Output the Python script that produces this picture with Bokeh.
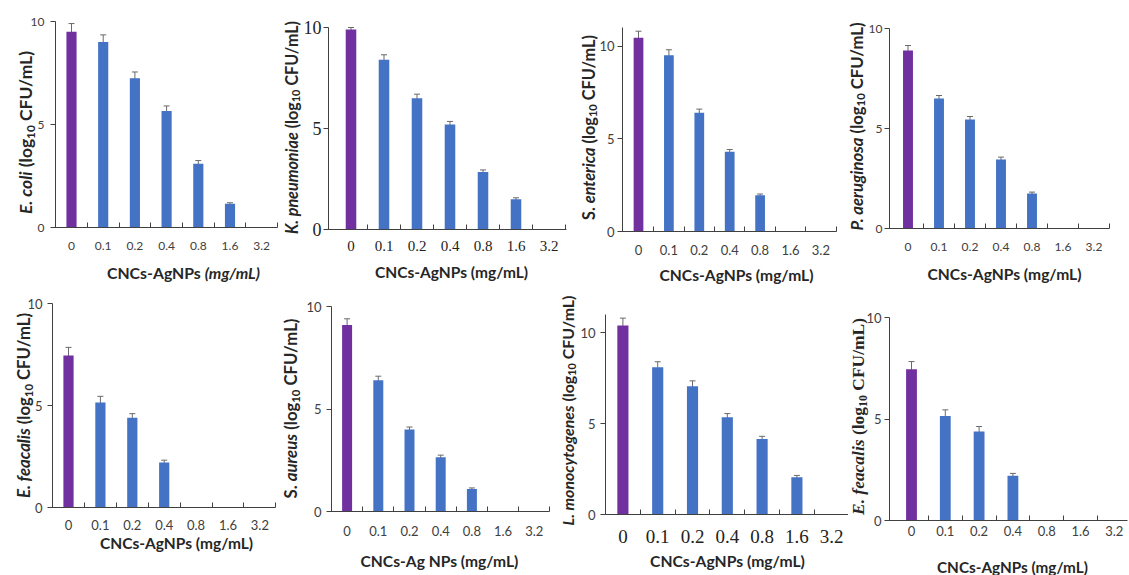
import math
import subprocess
from bokeh.plotting import figure
from bokeh.models import Range1d, FixedTicker, Whisker, ColumnDataSource, Label, TeeHead
from bokeh.layouts import row, column
from bokeh.embed import file_html
from bokeh.resources import INLINE

# ---------------- data ----------------
conc = ["0", "0.1", "0.2", "0.4", "0.8", "1.6", "3.2"]

ecoli = [9.5, 9.0, 7.25, 5.65, 3.1, 1.15, 0]
ecoli_err = [0.4, 0.35, 0.3, 0.25, 0.15, 0.05, 0]

kpneu = [9.9, 8.4, 6.5, 5.2, 2.85, 1.5, 0]
kpneu_err = [0.1, 0.25, 0.2, 0.15, 0.1, 0.07, 0]

sent = [10.45, 9.5, 6.4, 4.3, 1.95, 0, 0]
sent_err = [0.35, 0.3, 0.2, 0.12, 0.07, 0, 0]

paer = [8.9, 6.5, 5.45, 3.45, 1.75, 0, 0]
paer_err = [0.25, 0.15, 0.15, 0.12, 0.07, 0, 0]

efae = [7.45, 5.15, 4.4, 2.2, 0, 0, 0]
efae_err = [0.4, 0.3, 0.2, 0.12, 0, 0, 0]

saur = [9.1, 6.4, 4.0, 2.65, 1.1, 0, 0]
saur_err = [0.3, 0.2, 0.12, 0.1, 0.05, 0, 0]

lmono = [10.4, 8.1, 7.05, 5.35, 4.15, 2.05, 0]
lmono_err = [0.4, 0.3, 0.3, 0.2, 0.15, 0.1, 0]

efae2 = [7.45, 5.15, 4.38, 2.2, 0, 0, 0]
efae2_err = [0.38, 0.3, 0.25, 0.12, 0, 0, 0]

bar_colors = ["#7030A0"] + ["#4472C4"] * 6

# ---------------- text measuring ----------------
try:
    from PIL import ImageFont
    HAVE_PIL = True
except Exception:
    HAVE_PIL = False

_font_cache = {}


def _font_path(family, italic):
    key = (family, italic)
    if key in _font_cache:
        return _font_cache[key]
    path = None
    try:
        pat = family + ":bold" + (":italic" if italic else "")
        path = subprocess.run(["fc-match", "-f", "%{file}", pat], capture_output=True,
                              text=True, timeout=5).stdout.strip() or None
    except Exception:
        path = None
    _font_cache[key] = path
    return path


def text_width(text, family, italic, size):
    if HAVE_PIL:
        path = _font_path(family, italic)
        if path:
            try:
                f = ImageFont.truetype(path, 100)
                return f.getlength(text) * size / 100.0
            except Exception:
                pass
    w = 0.0
    for ch in text:
        if ch in " .,:;|!ilj'":
            w += 0.28
        elif ch in "()/-ftr[]":
            w += 0.36
        elif ch in "mwMW":
            w += 0.85
        elif ch.isupper():
            w += 0.66
        elif ch.isdigit():
            w += 0.56
        else:
            w += 0.53
    return w * size


SUB = 0.68
SANS = "Lato"
SERIF = "Liberation Serif"


class Geo:
    def __init__(self, L, R, T, B, x0, x1, ymax):
        self.L, self.R, self.T, self.B = L, R, T, B
        self.x0, self.x1, self.ymax = x0, x1, ymax

    def xd(self, xr):
        return self.x0 + (xr - self.L) / (self.R - self.L) * (self.x1 - self.x0)

    def yd(self, yr):
        return (self.B - yr) / (self.B - self.T) * self.ymax


def add_title(p, g, segs, family, target, cx, cy, vertical, color="#262626"):
    w1 = sum(text_width(t, family, it, SUB if sb else 1.0) for t, it, sb in segs)
    size = target / w1
    pos = cy + target / 2 if vertical else cx - target / 2
    for t, it, sb in segs:
        fs = size * (SUB if sb else 1.0)
        w = text_width(t, family, it, fs)
        core = t.lstrip(" ")
        lead = text_width(t[:len(t) - len(core)], family, it, fs) if core != t else 0.0
        core = core.rstrip(" ")
        shift = 0.3 * size if sb else 0.0
        if vertical:
            lx, ly, ang = g.xd(cx + shift), g.yd(pos - lead), math.pi / 2
        else:
            lx, ly, ang = g.xd(pos + lead), g.yd(cy + shift), 0.0
        p.add_layout(Label(x=lx, y=ly, text=core, angle=ang, text_font=family,
                           text_font_size="%.2fpx" % fs,
                           text_font_style="bold italic" if it else "bold",
                           text_align="left", text_baseline="middle", text_color=color))
        pos = pos - w if vertical else pos + w


def panel(box, frame, c0, s, ymax, vals, errs, ytitle, yfont, ylen, ycx, ycy,
          xtitle, xlen, xcx, xcy, xtick_font, xtick_size, xstand, ytick_font, ytick_size,
          ystand, xtick_color="#404040", ytick_color="#404040"):
    fx, fy, fw, fh = box
    L, R, T, B = frame
    x0 = (L - c0) / s
    x1 = (R - c0) / s
    g = Geo(L, R, T, B, x0, x1, ymax)
    p = figure(width=fw, height=fh,
               x_range=Range1d(g.xd(fx), g.xd(fx + fw)),
               y_range=Range1d(g.yd(fy + fh), g.yd(fy)),
               min_border_left=0, min_border_right=0, min_border_top=0, min_border_bottom=0,
               output_backend="svg", toolbar_location=None)
    p.outline_line_color = None
    p.xgrid.visible = False
    p.ygrid.visible = False
    p.background_fill_color = "white"
    p.border_fill_color = "white"

    xs = list(range(len(conc)))
    src = ColumnDataSource(dict(x=xs, top=vals, color=bar_colors))
    p.vbar(x="x", top="top", bottom=0, width=0.32, fill_color="color", line_color=None, source=src)

    wx = [x for x, e in zip(xs, errs) if e > 0]
    wu = [v + e for v, e in zip(vals, errs) if e > 0]
    wl = [v - e for v, e in zip(vals, errs) if e > 0]
    wsrc = ColumnDataSource(dict(x=wx, upper=wu, lower=wl))
    ec = "#6a6a6a"
    p.add_layout(Whisker(source=wsrc, base="x", upper="upper", lower="lower",
                         line_color=ec, line_width=1,
                         upper_head=TeeHead(size=6, line_color=ec, line_width=1),
                         lower_head=TeeHead(size=6, line_color=ec, line_width=1)))

    ax = p.xaxis[0]
    ax.fixed_location = 0
    ax.bounds = (x0 - 4.0 / s, x1)
    ax.ticker = FixedTicker(ticks=xs, minor_ticks=[i + 0.5 for i in range(0, 7)])
    ax.major_label_overrides = {i: c for i, c in enumerate(conc)}
    ax.major_tick_in = 0
    ax.major_tick_out = 0
    ax.minor_tick_in = 5
    ax.minor_tick_out = 0
    ax.minor_tick_line_color = "#404040"
    ax.axis_line_color = "#404040"
    ax.major_label_text_font = xtick_font
    ax.major_label_text_font_size = "%dpx" % xtick_size
    ax.major_label_text_color = xtick_color
    ax.major_label_standoff = xstand

    ay = p.yaxis[0]
    ay.fixed_location = x0
    ay.bounds = (0, ymax)
    ay.ticker = FixedTicker(ticks=[0, 5, 10], minor_ticks=[])
    ay.major_tick_in = 0
    ay.major_tick_out = 5
    ay.major_tick_line_color = "#404040"
    ay.axis_line_color = "#404040"
    ay.major_label_text_font = ytick_font
    ay.major_label_text_font_size = "%dpx" % ytick_size
    ay.major_label_text_color = ytick_color
    ay.major_label_standoff = ystand

    add_title(p, g, ytitle, yfont, ylen, ycx, ycy, True)
    add_title(p, g, xtitle, SANS, xlen, xcx, xcy, False)
    return p


def ylab(species):
    return species + [(" (log", False, False), ("10", False, True), (" CFU/mL)", False, False)]


XT = [("CNCs-AgNPs (mg/mL)", False, False)]

p1 = panel((0, 0, 282, 286), (55, 277, 21, 227), 71, 31.7, 10, ecoli, ecoli_err,
           ylab([("E. coli", True, False)]), SANS, 163, 25, 132,
           [("CNCs-AgNPs ", False, False), ("(mg/mL)", True, False)], 153, 183, 272,
           SANS, 12, 14, SANS, 12, 6)
p2 = panel((282, 0, 293, 286), (328, 566, 27, 229), 350.5, 33, 10, kpneu, kpneu_err,
           ylab([("K. pneumoniae", True, False)]), SANS, 213, 291, 127,
           XT, 153, 451, 271,
           SERIF, 15, 11, SERIF, 18, 2, xtick_color="#222222", ytick_color="#222222")
p3 = panel((575, 0, 267, 286), (622, 836, 27, 231), 638, 30.4, 11, sent, sent_err,
           ylab([("S. ", False, False), ("enterica", True, False)]), SANS, 185, 588, 127,
           XT, 154, 736, 274,
           SANS, 13, 13, SANS, 13, 3)
p4 = panel((842, 0, 287, 286), (889, 1109, 28, 228), 907.5, 31, 10, paer, paer_err,
           ylab([("P. aeruginosa", True, False)]), SANS, 208, 856, 126,
           XT, 154, 1004, 273,
           SANS, 12, 14, SANS, 12, 2)
p5 = panel((0, 286, 280, 289), (52, 275, 303, 507), 68, 31.9, 10, efae, efae_err,
           ylab([("E. feacalis", True, False)]), SANS, 185, 23, 405,
           XT, 153, 176, 542,
           SANS, 13, 12, SANS, 13, 5)
p6 = panel((280, 286, 275, 289), (331, 549, 306, 511), 346.6, 31.2, 10, saur, saur_err,
           ylab([("S. ", False, False), ("aureus", True, False)]), SANS, 180, 290, 408,
           [("CNCs-Ag NPs (mg/mL)", False, False)], 158, 439, 560,
           SANS, 13, 14, SANS, 13, 5)
p7 = panel((555, 286, 293, 289), (605, 848, 314, 514), 622.4, 34.8, 11, lmono, lmono_err,
           ylab([("L. monocytogenes", True, False)]), SANS, 230, 567, 410,
           XT, 155, 727, 560,
           SERIF, 19, 15, SANS, 13, 5, xtick_color="#222222")
p8 = panel((848, 286, 281, 289), (889, 1127, 317, 520), 911, 33.8, 10, efae2, efae2_err,
           ylab([("E. feacalis", True, False)]), SERIF, 197, 857, 416,
           XT, 151, 1012, 566,
           SANS, 13, 5, SANS, 13, 3)

layout = column(row(p1, p2, p3, p4), row(p5, p6, p7, p8))

open("out.html", "w").write(file_html(layout, INLINE))
